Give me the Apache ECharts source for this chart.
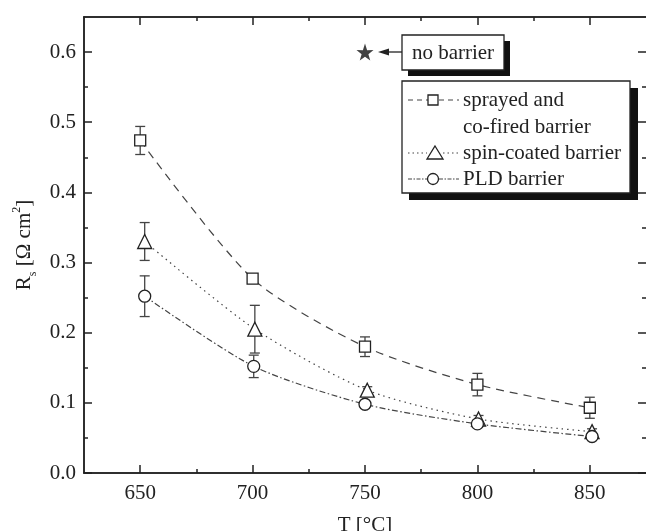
<!DOCTYPE html>
<html><head><meta charset="utf-8">
<script src="https://cdn.jsdelivr.net/npm/echarts@6/dist/echarts.min.js"></script>
<style>html,body{margin:0;padding:0;background:#fff}#c{width:646px;height:531px}</style>
</head><body><div id="c"></div>
<script>
// ---- data ----
const xMajor = [650, 700, 750, 800, 850];
const xMinor = [675, 725, 775, 825];
const yMajor = [0, 0.1, 0.2, 0.3, 0.4, 0.5, 0.6];
const yMinor = [0.05, 0.15, 0.25, 0.35, 0.45, 0.55];

const sprayT = [650, 700, 750, 800, 850];
const sprayR = [0.474, 0.277, 0.180, 0.126, 0.093];
const sprayErr = [0.020, 0.004, 0.014, 0.016, 0.015];

const spinT = [652, 701, 751, 800.5, 851];
const spinR = [0.330, 0.205, 0.118, 0.077, 0.059];
const spinErr = [0.027, 0.034, 0.005, 0.005, 0.004];

const pldT = [652, 700.5, 750, 800, 851];
const pldR = [0.252, 0.152, 0.098, 0.070, 0.052];
const pldErr = [0.029, 0.016, 0.005, 0.005, 0.004];

const noBarrierT = [750];
const noBarrierR = [0.6];

const names = ['sprayed and', 'co-fired barrier', 'spin-coated barrier', 'PLD barrier', 'no barrier'];

// ---- chart ----
const FONT = '"Liberation Serif", "DejaVu Serif", serif';
const INK = '#222';
const LINE = '#444';
const chart = echarts.init(document.getElementById('c'), null, {renderer: 'canvas'});

function pts(T, R) { return T.map((t, i) => [t, R[i]]); }
function errs(T, R, E) { return T.map((t, i) => [t, R[i] - E[i], R[i] + E[i]]); }

function errSeries(data) {
  return {
    type: 'custom', z: 1, silent: true,
    data: data,
    renderItem: function (params, api) {
      const lo = api.coord([api.value(0), api.value(1)]);
      const hi = api.coord([api.value(0), api.value(2)]);
      const w = 5;
      const st = {stroke: LINE, lineWidth: 1.3, fill: null};
      return {type: 'group', children: [
        {type: 'line', shape: {x1: lo[0], y1: lo[1], x2: hi[0], y2: hi[1]}, style: st},
        {type: 'line', shape: {x1: lo[0]-w, y1: lo[1], x2: lo[0]+w, y2: lo[1]}, style: st},
        {type: 'line', shape: {x1: hi[0]-w, y1: hi[1], x2: hi[0]+w, y2: hi[1]}, style: st}
      ]};
    }
  };
}

function lineSeries(T, R, symbol, size, dash) {
  return {
    type: 'line', z: 3, smooth: 0.25,
    data: pts(T, R),
    symbol: symbol, symbolSize: size, showAllSymbol: true,
    lineStyle: {color: LINE, width: 1.2, type: dash},
    itemStyle: {color: '#fff', borderColor: INK, borderWidth: 1.3},
    emphasis: {disabled: true}
  };
}

function xAx(pos, custom, len, labels) {
  return {
    type: 'value', position: pos, min: 625, max: 875,
    axisLine: {show: true, onZero: false, lineStyle: {color: INK, width: 1.5}},
    splitLine: {show: false},
    axisTick: {show: true, inside: true, length: len, customValues: custom, lineStyle: {color: INK, width: 1.5}},
    axisLabel: labels ? {show: true, customValues: custom, margin: 10, color: INK, fontSize: 21, fontFamily: FONT}
                      : {show: false},
  };
}
function yAx(pos, custom, len, labels, showLine) {
  return {
    type: 'value', position: pos, min: 0, max: 0.65,
    axisLine: {show: showLine, onZero: false, lineStyle: {color: INK, width: 1.5}},
    splitLine: {show: false},
    axisTick: {show: true, inside: true, length: len, customValues: custom, lineStyle: {color: INK, width: 1.5}},
    axisLabel: labels ? {show: true, customValues: custom, margin: 8, color: INK, fontSize: 21, fontFamily: FONT,
                         formatter: v => v.toFixed(1)}
                      : {show: false},
  };
}

const xAxes = [
  xAx('bottom', xMajor, 8, true),
  xAx('bottom', xMinor, 4, false),
  xAx('top', xMajor, 8, false),
  xAx('top', xMinor, 4, false)
];
xAxes[0].name = 'T [°C]';
xAxes[0].nameLocation = 'middle';
xAxes[0].nameGap = 42;
xAxes[0].nameTextStyle = {color: INK, fontSize: 21, fontFamily: FONT};

const yAxes = [
  yAx('left', yMajor, 8, true, true),
  yAx('left', yMinor, 4, false, true),
  yAx('right', yMajor, 8, false, false),
  yAx('right', yMinor, 4, false, false)
];
yAxes[0].name = '{a|R}{s|s}{a| [Ω cm}{p|2}{a|]}';
yAxes[0].nameLocation = 'middle';
yAxes[0].nameRotate = 90;
yAxes[0].nameGap = 35;
yAxes[0].nameTextStyle = {
  color: INK, fontFamily: FONT, fontSize: 21,
  rich: {
    a: {fontSize: 21, fontFamily: FONT, color: INK, lineHeight: 28},
    s: {fontSize: 12, fontFamily: FONT, color: INK, lineHeight: 12, verticalAlign: 'bottom'},
    p: {fontSize: 12, fontFamily: FONT, color: INK, lineHeight: 12, verticalAlign: 'top'}
  }
};

const starPath = 'path://M50,0 L61.8,35.1 L97.6,34.5 L69,56.7 L79.4,90.9 L50,70.5 L20.6,90.9 L31,56.7 L2.4,34.5 L38.2,35.1 Z';

const series = [
  errSeries(errs(sprayT, sprayR, sprayErr)),
  errSeries(errs(spinT, spinR, spinErr)),
  errSeries(errs(pldT, pldR, pldErr)),
  lineSeries(sprayT, sprayR, 'rect', 11, [8, 6]),
  lineSeries(spinT, spinR, 'triangle', 14, [1.5, 4]),
  lineSeries(pldT, pldR, 'circle', 12, [6, 2.5, 1.5, 2.5]),
  {
    type: 'scatter', z: 4, data: pts(noBarrierT, noBarrierR),
    symbol: starPath, symbolSize: 17,
    itemStyle: {color: '#111'}
  }
];

// legend / annotation drawn as graphics
const txt = (x, y, s, align) => ({
  type: 'text', x: x, y: y,
  style: {text: s, fill: INK, font: '21px ' + FONT, align: align || 'left', verticalAlign: 'middle'}
});
const seg = (x1, x2, y, dash) => ({
  type: 'line', shape: {x1: x1, y1: y, x2: x2, y2: y},
  style: {stroke: LINE, lineWidth: 1.2, lineDash: dash}
});
const symStyle = {fill: '#fff', stroke: INK, lineWidth: 1.3};

const graphic = [
  // no barrier box
  {type: 'rect', shape: {x: 408, y: 41, width: 102, height: 35}, style: {fill: '#111'}},
  {type: 'rect', shape: {x: 402, y: 35, width: 102, height: 35}, style: {fill: '#fff', stroke: INK, lineWidth: 1.3}},
  txt(453, 53, names[4], 'center'),
  {type: 'line', shape: {x1: 386, y1: 52, x2: 402, y2: 52}, style: {stroke: INK, lineWidth: 1.3}},
  {type: 'polygon', shape: {points: [[378, 52], [389, 48.5], [389, 55.5]]}, style: {fill: INK}},
  // legend box
  {type: 'rect', shape: {x: 409, y: 88, width: 229, height: 112}, style: {fill: '#111'}},
  {type: 'rect', shape: {x: 402, y: 81, width: 228, height: 112}, style: {fill: '#fff', stroke: INK, lineWidth: 1.3}},
  seg(408, 428, 100, [5, 4]), seg(439, 459, 100, [5, 4]),
  {type: 'rect', shape: {x: 428, y: 95, width: 10, height: 10}, style: symStyle},
  txt(463, 100, names[0]), txt(463, 127, names[1]),
  seg(408, 427, 153, [1.5, 3]), seg(443, 459, 153, [1.5, 3]),
  {type: 'polygon', shape: {points: [[435, 146], [443, 159], [427, 159]]}, style: symStyle},
  txt(463, 153, names[2]),
  seg(408, 427, 179, [4, 1.5, 1.5, 1.5]), seg(439, 459, 179, [4, 1.5, 1.5, 1.5]),
  {type: 'circle', shape: {cx: 433, cy: 179, r: 5.5}, style: symStyle},
  txt(463, 179, names[3])
];

chart.setOption({
  animation: false,
  backgroundColor: '#fff',
  grid: {left: 84, right: 0, top: 17, bottom: 58, containLabel: false, outerBoundsMode: 'none'},
  xAxis: xAxes,
  yAxis: yAxes,
  series: series,
  graphic: graphic
});
</script>
</body></html>
